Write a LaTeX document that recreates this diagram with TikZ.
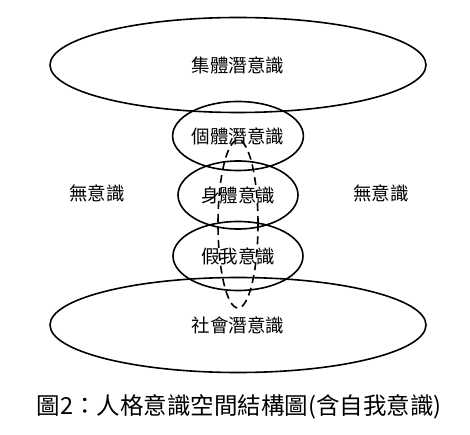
\documentclass[tikz,border=0pt]{standalone}
\usepackage{fontspec}
\newfontfamily\cjk{Noto Sans CJK TC}
\usetikzlibrary{shapes.geometric}
\tikzset{>=latex}
\tikzset{layer/.style={ellipse,draw,line width=1.6pt,inner sep=0pt}}

\begin{document}
\begin{tikzpicture}[x=1pt,y=-1pt,font=\cjk\fontsize{18.5}{21}\selectfont]
            \useasboundingbox (0,0) rectangle (470,435);
            \node[layer,minimum width=376pt,minimum height=95pt] (coll) at (238,65) {集體潛意識};
            \node[layer,minimum width=130pt,minimum height=69pt] (pers) at (238,136) {個體潛意識};
            \node[layer,minimum width=120pt,minimum height=68pt] (body) at (238,195) {身體意識};
            \node[layer,minimum width=130pt,minimum height=69pt] (fals) at (238,256) {假我意識};
            \node[layer,minimum width=376pt,minimum height=95pt] (soci) at (238,325) {社會潛意識};
            \node[layer,dashed,dash pattern=on 8pt off 5pt,minimum width=40pt,minimum height=168pt] (self) at (238,224) {};
            \node (ul) at (97,193) {無意識};
            \node (ur) at (381,193) {無意識};
            \node[font=\cjk\fontsize{23.5}{26}\selectfont] (cap) at (239,407) {圖2：人格意識空間結構圖(含自我意識)};
        \end{tikzpicture}
\end{document}
